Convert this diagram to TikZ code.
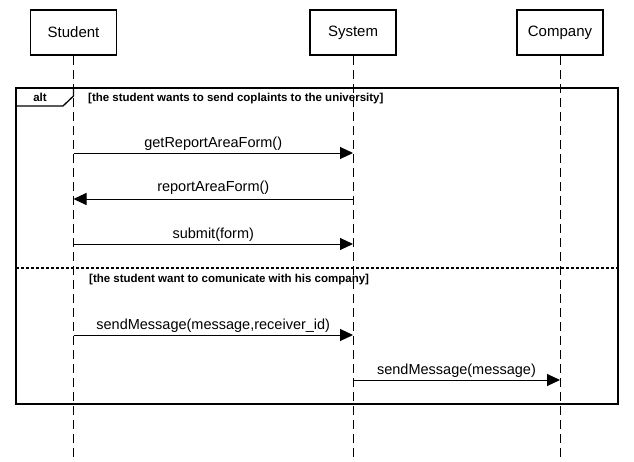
\documentclass[tikz,border=0pt]{standalone}
\usepackage{fontspec}
\setmainfont{Liberation Sans}
\usetikzlibrary{arrows.meta,positioning}

\tikzset{
  actorbox/.style={draw, line width=1.6pt, minimum width=86pt, minimum height=45pt, font=\fontsize{15}{17}\selectfont, inner sep=0pt},
  lifeline/.style={line width=0.9pt, dash pattern=on 9pt off 5pt},
  msg/.style={line width=1pt, -{Triangle[length=13pt,width=12pt]}},
  msglabel/.style={font=\fontsize{14.5}{16}\selectfont, inner sep=0pt, anchor=base},
  guard/.style={font=\bfseries\fontsize{11.5}{13}\selectfont, inner sep=0pt, anchor=base west}
}

\begin{document}
\begin{tikzpicture}[x=1pt,y=-1pt]
\useasboundingbox (0,0) rectangle (634,461);

% heads of the lifelines
\node[actorbox] (student) at (73.5,32.5) {Student};
\node[actorbox] (system) at (353,32.5) {System};
\node[actorbox] (company) at (560,32.5) {Company};

% lifelines
\coordinate (studentend) at (73.5,461);
\coordinate (systemend) at (353,461);
\coordinate (companyend) at (560,461);
\draw[lifeline] (student.south) -- (studentend);
\draw[lifeline] (system.south) -- (systemend);
\draw[lifeline] (company.south) -- (companyend);

% alt frame
\draw[line width=1.6pt] (16,88) rectangle (618,404);
\draw[line width=1.3pt] (16,106) -- (63,106) -- (73.5,96) -- (73.5,88);
\node[font=\bfseries\fontsize{11.5}{13}\selectfont] (alt) at (40,97.5) {alt};
\node[guard] (guardA) at (88,101.5) {[the student wants to send coplaints to the university]};
\draw[line width=1.3pt, dash pattern=on 3pt off 2pt] (16,268) -- (618,268);
\node[guard] (guardB) at (89,282.5) {[the student want to comunicate with his company]};

% messages
\coordinate (m1a) at (student |- 0,153);
\coordinate (m1b) at (system |- 0,153);
\coordinate (m2a) at (system |- 0,199);
\coordinate (m2b) at (student |- 0,199);
\coordinate (m3a) at (student |- 0,244);
\coordinate (m3b) at (system |- 0,244);
\coordinate (m4a) at (student |- 0,335);
\coordinate (m4b) at (system |- 0,335);
\coordinate (m5a) at (system |- 0,380);
\coordinate (m5b) at (company |- 0,380);

\draw[msg] (m1a) -- (m1b) node[msglabel, pos=0.5, yshift=6pt] (l1) {getReportAreaForm()};
\draw[msg] (m2a) -- (m2b) node[msglabel, pos=0.5, yshift=8pt] (l2) {reportAreaForm()};
\draw[msg] (m3a) -- (m3b) node[msglabel, pos=0.5, yshift=6pt] (l3) {submit(form)};
\draw[msg] (m4a) -- (m4b) node[msglabel, pos=0.5, yshift=6pt] (l4) {sendMessage(message,receiver\_id)};
\draw[msg] (m5a) -- (m5b) node[msglabel, pos=0.5, yshift=6pt] (l5) {sendMessage(message)};
\end{tikzpicture}
\end{document}
